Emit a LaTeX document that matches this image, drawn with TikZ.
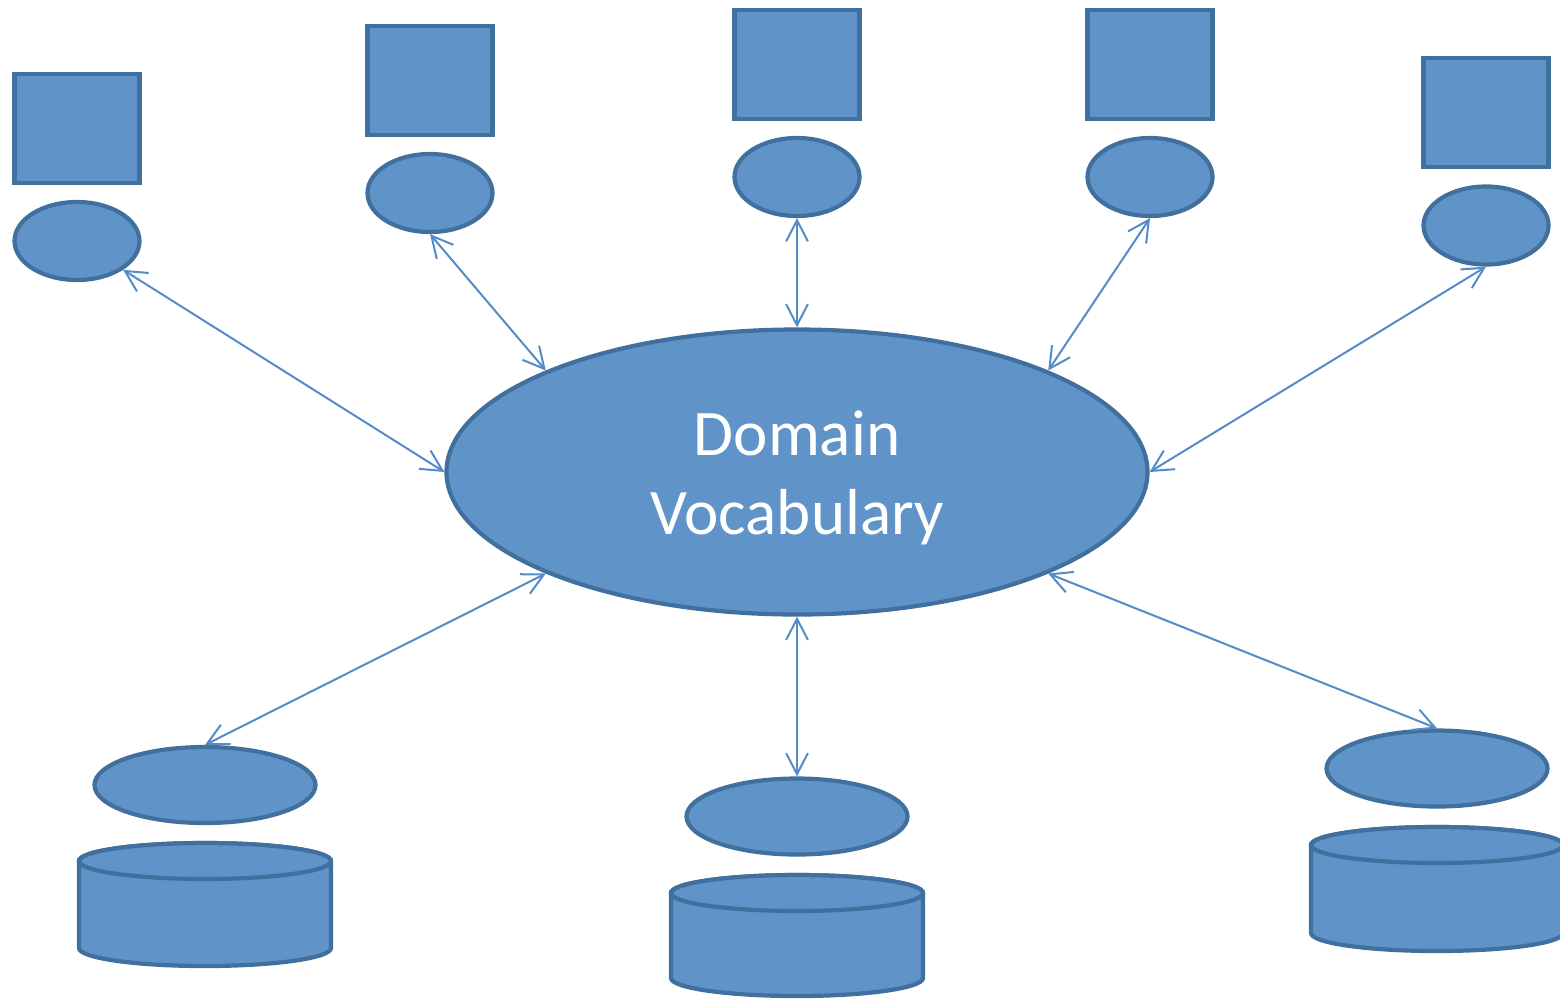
\documentclass[tikz,border=0pt]{standalone}
\usepackage{fontspec}
\setmainfont{Carlito}
\usepackage{tikz}
\usetikzlibrary{arrows.meta,shapes.geometric,positioning}

\definecolor{vfill}{RGB}{96,148,200}
\definecolor{vline}{RGB}{66,112,158}
\definecolor{vlink}{RGB}{84,139,200}

\begin{document}
\begin{tikzpicture}[x=1cm,y=1cm,
	box/.style={draw=vline,fill=vfill,line width=1.2pt,minimum width=1.25cm,minimum height=1.09cm,inner sep=0pt},
	blob/.style={ellipse,draw=vline,fill=vfill,line width=1.2pt,minimum width=1.25cm,minimum height=0.78cm,inner sep=0pt},
	store/.style={ellipse,draw=vline,fill=vfill,line width=1.2pt,minimum width=2.21cm,minimum height=0.76cm,inner sep=0pt},
	drum/.style={draw=vline,fill=vfill,line width=1.2pt},
	link/.style={draw=vlink,line width=0.57pt,{Straight Barb[length=6pt,width=6.2pt]}-{Straight Barb[length=6pt,width=6.2pt]}}]
	\useasboundingbox (0,0) rectangle (15.6,-10.01);
	
	% centre
	\node[ellipse,draw=vline,fill=vfill,line width=1.2pt,minimum width=7.01cm,minimum height=2.85cm,inner sep=0pt,
		label={[text=white,align=center,yshift=-0.06cm,font=\fontsize{18.5}{22.5}\selectfont]center:Domain\\Vocabulary}] (vocab) at (7.97,-4.72) {};
	
	% top row
	\node[box] (sq1) at (0.77,-1.285) {}; \node[blob] (ev1) at (0.77,-2.41) {};
	\node[box] (sq2) at (4.30,-0.805) {}; \node[blob] (ev2) at (4.30,-1.93) {};
	\node[box] (sq3) at (7.97,-0.645) {}; \node[blob] (ev3) at (7.97,-1.77) {};
	\node[box] (sq4) at (11.50,-0.645) {}; \node[blob] (ev4) at (11.50,-1.77) {};
	\node[box] (sq5) at (14.86,-1.125) {}; \node[blob] (ev5) at (14.86,-2.255) {};
	
	% bottom row
	\node[store] (eb1) at (2.05,-7.85) {};
	\node[store] (eb2) at (7.97,-8.165) {};
	\node[store] (eb3) at (14.37,-7.685) {};
	
	\draw[drum] (0.79,-8.61) -- (0.79,-9.48) arc[start angle=180,end angle=360,x radius=1.26,y radius=0.18] -- (3.31,-8.61) arc[start angle=0,end angle=180,x radius=1.26,y radius=0.18] -- cycle;
	\draw[drum] (2.05,-8.61) ellipse[x radius=1.26,y radius=0.18];
	\draw[drum] (6.71,-8.93) -- (6.71,-9.78) arc[start angle=180,end angle=360,x radius=1.26,y radius=0.18] -- (9.23,-8.93) arc[start angle=0,end angle=180,x radius=1.26,y radius=0.18] -- cycle;
	\draw[drum] (7.97,-8.93) ellipse[x radius=1.26,y radius=0.18];
	\draw[drum] (13.11,-8.45) -- (13.11,-9.33) arc[start angle=180,end angle=360,x radius=1.26,y radius=0.18] -- (15.63,-8.45) arc[start angle=0,end angle=180,x radius=1.26,y radius=0.18] -- cycle;
	\draw[drum] (14.37,-8.45) ellipse[x radius=1.26,y radius=0.18];
	
	% links
	\draw[link] (ev1.328) -- (vocab.west);
	\draw[link] (ev2.south) -- (vocab.158);
	\draw[link] (ev3.south) -- (vocab.north);
	\draw[link] (ev4.south) -- (vocab.22);
	\draw[link] (ev5.south) -- (vocab.east);
	\draw[link] (eb1.north) -- (vocab.202);
	\draw[link] (eb2.north) -- (vocab.south);
	\draw[link] (eb3.north) -- (vocab.338);
\end{tikzpicture}
\end{document}
